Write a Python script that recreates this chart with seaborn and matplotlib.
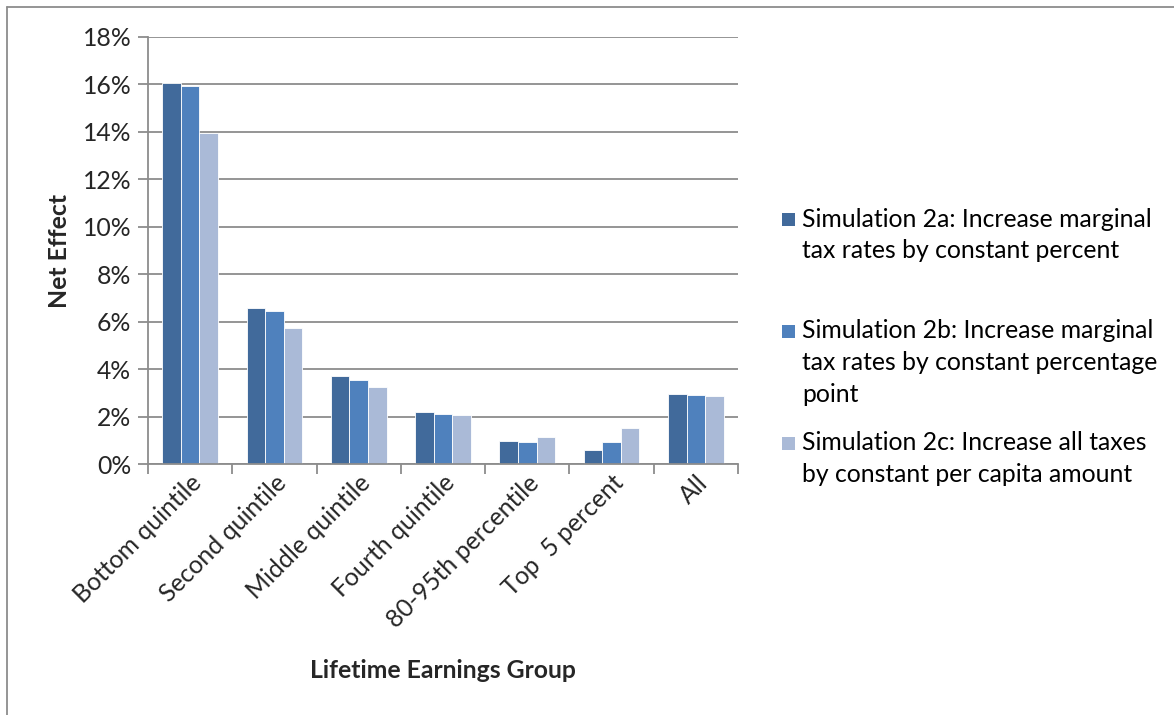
import matplotlib
matplotlib.use("Agg")
import matplotlib.pyplot as plt
import seaborn as sns
import pandas as pd
import numpy as np
from matplotlib.lines import Line2D
from matplotlib.patches import Rectangle
from matplotlib.ticker import FuncFormatter

categories = ["Bottom quintile", "Second quintile", "Middle quintile", "Fourth quintile",
              "80-95th percentile", "Top  5 percent", "All"]
series_names = ["Simulation 2a: Increase marginal\ntax rates by constant percent",
                "Simulation 2b: Increase marginal\ntax rates by constant percentage\npoint",
                "Simulation 2c: Increase all taxes\nby constant per capita amount"]
sim_2a = [16.07, 6.59, 3.69, 2.21, 0.95, 0.60, 2.94]
sim_2b = [15.93, 6.44, 3.53, 2.09, 0.91, 0.94, 2.91]
sim_2c = [13.97, 5.72, 3.24, 2.07, 1.13, 1.52, 2.87]
colors = ["#416A9B", "#4F81BD", "#AABAD7"]

rows = []
for name, vals in zip(series_names, [sim_2a, sim_2b, sim_2c]):
    for c, v in zip(categories, vals):
        rows.append({"Group": c, "Series": name, "Value": v})
df = pd.DataFrame(rows)

sns.set_style("white")
plt.rcParams['font.family'] = ['Lato', 'DejaVu Sans']
FS = 17.8
W, H = 1174, 715

fig = plt.figure(figsize=(W/100, H/100), dpi=100)
ax = fig.add_axes([148/W, 1-464/H, (738-148)/W, (464-37)/H])

sns.barplot(data=df, x="Group", y="Value", hue="Series", order=categories,
            hue_order=series_names, palette=colors, width=0.66, ax=ax,
            edgecolor="white", linewidth=0.6, saturation=1, legend=False)

ax.set_ylim(0, 18)
ax.set_xlim(-0.5, 6.5)
ax.set_yticks(np.arange(0, 19, 2))
ax.yaxis.set_major_formatter(FuncFormatter(lambda v, p: f"{int(v)}%"))
ax.grid(axis="y", color="#8C8C8C", linewidth=1.3)
ax.set_axisbelow(True)
for s in ["top", "right"]:
    ax.spines[s].set_visible(False)
for s in ["left", "bottom"]:
    ax.spines[s].set_color("#8C8C8C")
    ax.spines[s].set_linewidth(1.3)

ax.tick_params(axis="y", left=True, length=7, width=1.3, color="#8C8C8C",
               labelsize=FS, pad=5)
ax.set_xticks(range(len(categories)))
ax.set_xticklabels(categories, rotation=45, ha="right", rotation_mode="anchor", fontsize=FS)
ax.tick_params(axis="x", which="major", length=0, pad=5)
ax.set_xticks(np.arange(-0.5, 7, 1), minor=True)
ax.tick_params(axis="x", which="minor", bottom=True, length=7, width=1.3, color="#8C8C8C")

ax.set_ylabel("Net Effect", fontsize=FS, fontweight="bold", labelpad=8)
ax.set_xlabel("Lifetime Earnings Group", fontsize=FS, fontweight="bold", labelpad=20)

# legend drawn manually so that the marker sits on the first line of each entry
first_line_y = [219, 331, 443]
pitch = 31.5
for color, name, y0 in zip(colors, series_names, first_line_y):
    fig.add_artist(Rectangle((782/W, 1-(y0+6.5)/H), 13/W, 13/H, facecolor=color,
                             edgecolor="none", transform=fig.transFigure))
    for k, line in enumerate(name.split("\n")):
        fig.text(802/W, 1-(y0+k*pitch)/H, line, fontsize=FS, va="center", ha="left",
                 color="black")

fig.add_artist(Line2D([7/W, 1], [1-7/H, 1-7/H], color="#8C8C8C", linewidth=1.3,
                      transform=fig.transFigure))
fig.add_artist(Line2D([7/W, 7/W], [0, 1-7/H], color="#8C8C8C", linewidth=1.3,
                      transform=fig.transFigure))

fig.savefig("out.png", dpi=100)
